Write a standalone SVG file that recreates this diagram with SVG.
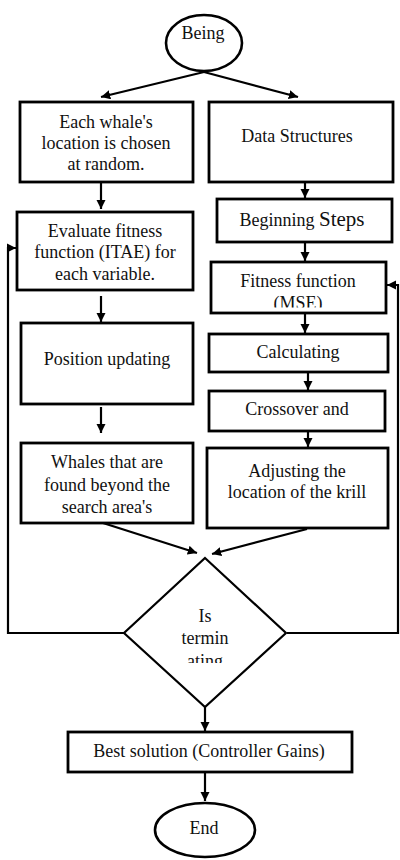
<svg xmlns="http://www.w3.org/2000/svg" width="400" height="860" viewBox="0 0 400 860">
<style>
.box{fill:#fff;stroke:#000;stroke-width:2.8}
.term{fill:#fff;stroke:#000;stroke-width:2.6}
.dia{fill:#fff;stroke:#000;stroke-width:2.2}
.t{font-family:'Liberation Serif',Tinos,'Times New Roman',Times,serif;font-size:18px;fill:#111;text-anchor:middle}
.c{fill:none;stroke:#000;stroke-width:2.2}
</style>
<defs>
<marker id="ah" viewBox="0 0 10 10" refX="10" refY="5" markerWidth="4.2" markerHeight="4.2" orient="auto" markerUnits="strokeWidth">
<path d="M0,0 L10,5 L0,10 z" fill="#000"/>
</marker>
<clipPath id="clipMSE"><rect x="200" y="290" width="200" height="17.5"/></clipPath>
<clipPath id="clipAting"><rect x="150" y="648" width="110" height="15"/></clipPath>
</defs>
<g id="connectors">
<path class="c" d="M204,72 L101,97" marker-end="url(#ah)"/>
<path class="c" d="M204,72 L298,97" marker-end="url(#ah)"/>
<path class="c" d="M101,182 L101,209" marker-end="url(#ah)"/>
<path class="c" d="M101,296 L101,322" marker-end="url(#ah)"/>
<path class="c" d="M101,407 L101,433" marker-end="url(#ah)"/>
<path class="c" d="M305,182 L305,198" marker-end="url(#ah)"/>
<path class="c" d="M305,242 L305,261" marker-end="url(#ah)"/>
<path class="c" d="M305,313 L305,333" marker-end="url(#ah)"/>
<path class="c" d="M308,372 L308,390" marker-end="url(#ah)"/>
<path class="c" d="M308,431 L308,447" marker-end="url(#ah)"/>
<path class="c" d="M103,523 L197,553" marker-end="url(#ah)"/>
<path class="c" d="M307,529 L212,554" marker-end="url(#ah)"/>
<path class="c" d="M125,633 L8,633 L8,248 L16,248" marker-end="url(#ah)"/>
<path class="c" d="M287,633 L398,633 L398,285 L387,285" marker-end="url(#ah)"/>
<path class="c" d="M205,707 L205,731" marker-end="url(#ah)"/>
<path class="c" d="M205,772 L205,801" marker-end="url(#ah)"/>
</g>
<g id="being">
<ellipse class="term" cx="204" cy="43" rx="38" ry="28"/>
<text class="t" x="203" y="39" font-family="Liberation Serif">Being</text>
</g>
<g id="whale-init">
<rect class="box" x="20" y="102" width="173" height="80"/>
<text class="t" x="106" y="128">Each whale's</text>
<text class="t" x="106" y="149">location is chosen</text>
<text class="t" x="106" y="170">at random.</text>
</g>
<g id="data-structures">
<rect class="box" x="209" y="102" width="184" height="80"/>
<text class="t" x="297" y="142">Data Structures</text>
</g>
<g id="evaluate">
<rect class="box" x="17" y="212" width="176" height="78"/>
<text class="t" x="105" y="237">Evaluate fitness</text>
<text class="t" x="105" y="258">function (ITAE) for</text>
<text class="t" x="105" y="280">each variable.</text>
</g>
<g id="beginning">
<rect class="box" x="217" y="199" width="175" height="43"/>
<text class="t" x="302" y="226">Beginning <tspan font-size="21">Steps</tspan></text>
</g>
<g id="fitness">
<rect class="box" x="211" y="262" width="175" height="51"/>
<text class="t" x="298" y="287">Fitness function</text>
<text class="t" x="298" y="309" clip-path="url(#clipMSE)">(MSE)</text>
</g>
<g id="position">
<rect class="box" x="21" y="323" width="172" height="81"/>
<text class="t" x="107" y="365">Position updating</text>
</g>
<g id="calculating">
<rect class="box" x="209" y="334" width="179" height="38"/>
<text class="t" x="298" y="358">Calculating</text>
</g>
<g id="crossover">
<rect class="box" x="209" y="391" width="176" height="40"/>
<text class="t" x="297" y="415">Crossover and</text>
</g>
<g id="whales-beyond">
<rect class="box" x="21" y="443" width="172" height="80"/>
<text class="t" x="107" y="468">Whales that are</text>
<text class="t" x="107" y="491">found beyond the</text>
<text class="t" x="107" y="513">search area's</text>
</g>
<g id="adjusting">
<rect class="box" x="207" y="448" width="181" height="80"/>
<text class="t" x="297" y="477">Adjusting the</text>
<text class="t" x="297" y="498">location of the krill</text>
</g>
<g id="decision">
<polygon class="dia" points="205,558 286,633 205,707 124,633"/>
<text class="t" x="205" y="622">Is</text>
<text class="t" x="205" y="644">termin</text>
<text class="t" x="205" y="667" clip-path="url(#clipAting)">ating</text>
</g>
<g id="best">
<rect class="box" x="68" y="732" width="284" height="40"/>
<text class="t" x="209" y="757">Best solution (Controller Gains)</text>
</g>
<g id="end">
<ellipse class="term" cx="205" cy="830" rx="50" ry="27"/>
<text class="t" x="204" y="834">End</text>
</g>
</svg>
